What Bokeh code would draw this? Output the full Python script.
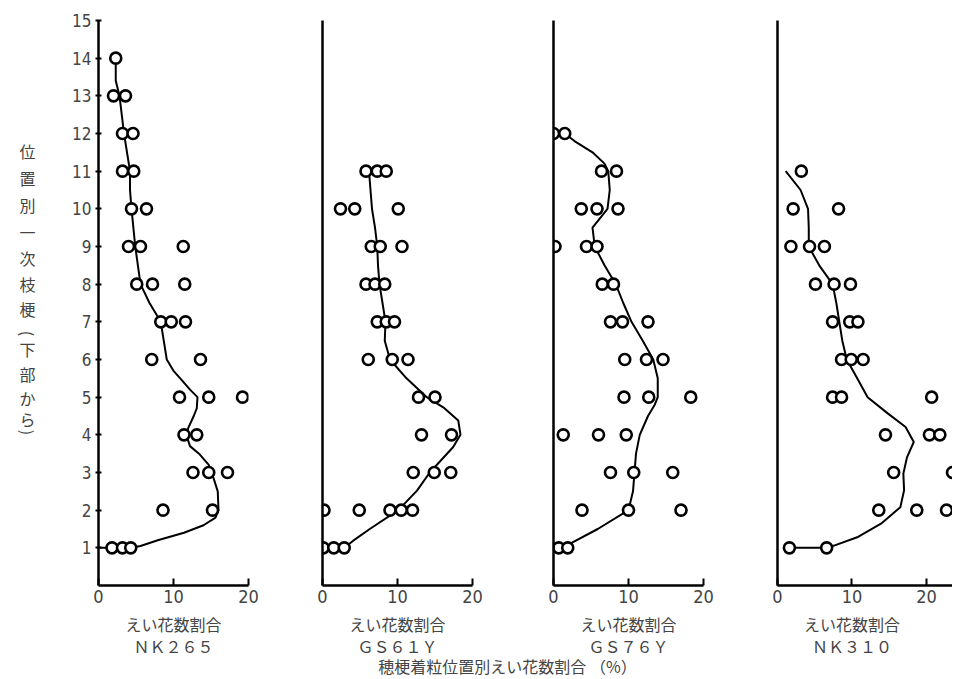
import math
from bokeh.plotting import figure
from bokeh.layouts import row, column
from bokeh.models import Label, FixedTicker, Range1d
from bokeh.embed import file_html
from bokeh.resources import INLINE

# ---------------- data ----------------
varieties = ["ＮＫ２６５", "ＧＳ６１Ｙ", "ＧＳ７６Ｙ", "ＮＫ３１０"]
x_label = "えい花数割合"
y_title = ["位", "置", "別", "一", "次", "枝", "梗", "(", "下", "部", "か", "ら", ")"]
bottom_title = "穂梗着粒位置別えい花数割合 （%）"
y_ticks = list(range(1, 16))
x_ticks = [0, 10, 20]

# NK265
nk265_y = [14, 13, 13, 12, 12, 11, 11, 10, 10, 9, 9, 9, 8, 8, 8, 7, 7, 7, 6, 6,
           5, 5, 5, 4, 4, 3, 3, 3, 2, 2, 1, 1, 1]
nk265_x = [2.3, 2.0, 3.6, 3.2, 4.6, 3.2, 4.7, 4.4, 6.4, 4.0, 5.6, 11.3, 5.1, 7.2, 11.5,
           8.3, 9.7, 11.6, 7.1, 13.6, 10.8, 14.7, 19.2, 11.4, 13.1, 12.6, 14.7, 17.2,
           8.6, 15.2, 1.8, 3.2, 4.3]
nk265_cx = [2.3, 2.3, 2.8, 3.4, 4.2, 4.2, 4.4, 4.9, 5.6, 6.8, 8.3, 8.7, 9.1, 10.0, 10.9,
            12.2, 13.2, 13.1, 12.7, 12.0, 11.7, 12.2, 13.4, 14.7, 15.1, 15.9, 16.0, 15.6,
            14.0, 11.4, 7.9, 5.6, 4.3, 0.0]
nk265_cy = [14, 13.4, 13, 12, 11, 10.5, 10, 9, 8, 7.5, 7, 6.5, 6, 5.7, 5.5, 5.2, 5, 4.7,
            4.5, 4.2, 4, 3.7, 3.5, 3.2, 3, 2.5, 2, 1.8, 1.6, 1.4, 1.2, 1.05, 1.0, 1.0]

# GS61Y
gs61y_y = [11, 11, 11, 10, 10, 10, 9, 9, 9, 8, 8, 8, 7, 7, 7, 6, 6, 6, 5, 5, 4, 4,
           3, 3, 3, 2, 2, 2, 2, 2, 1, 1, 1]
gs61y_x = [5.8, 7.3, 8.5, 2.4, 4.3, 10.1, 6.5, 7.7, 10.6, 5.8, 7.0, 8.3, 7.3, 8.5, 9.6,
           6.1, 9.3, 11.4, 12.8, 15.0, 13.2, 17.2, 12.1, 14.9, 17.1, 0.2, 4.9, 9.0,
           10.5, 12.0, 0.1, 1.5, 2.9]
gs61y_cx = [6.2, 6.4, 6.6, 7.0, 7.3, 7.4, 7.6, 8.0, 8.4, 8.3, 9.0, 11.2, 13.9, 16.1,
            18.1, 18.4, 17.4, 14.3, 12.6, 10.1, 6.3, 4.1, 2.9, 0.1]
gs61y_cy = [11, 10.5, 10, 9.5, 9, 8.5, 8, 7.5, 7, 6.5, 6, 5.5, 5, 4.73, 4.38, 4.0,
            3.67, 3.0, 2.52, 2.0, 1.5, 1.19, 1.0, 1.0]

# GS76Y
gs76y_y = [12, 12, 11, 11, 10, 10, 10, 9, 9, 9, 8, 8, 7, 7, 7, 6, 6, 6, 5, 5, 5,
           4, 4, 4, 3, 3, 3, 2, 2, 2, 1, 1]
gs76y_x = [0.0, 1.5, 6.4, 8.4, 3.7, 5.8, 8.6, 0.2, 4.4, 5.8, 6.5, 8.0, 7.6, 9.2, 12.6,
           9.5, 12.4, 14.6, 9.4, 12.7, 18.3, 1.3, 6.0, 9.7, 7.6, 10.7, 15.9, 3.8, 10.0,
           17.0, 0.7, 1.9]
gs76y_cx = [1.5, 2.8, 5.2, 6.8, 7.3, 7.5, 7.2, 5.2, 5.5, 6.8, 8.3, 9.3, 10.4, 11.9,
            13.3, 13.9, 13.9, 13.5, 12.6, 11.5, 11.0, 10.8, 10.6, 10.0, 5.9, 2.1, 1.9]
gs76y_cy = [12, 11.8, 11.5, 11.2, 11, 10.5, 10, 9.5, 9, 8.5, 8, 7.5, 7, 6.5, 6, 5.5,
            5, 4.8, 4.5, 4, 3.5, 3, 2.5, 2, 1.5, 1.1, 1.0]

# NK310
nk310_y = [11, 10, 10, 9, 9, 9, 8, 8, 8, 7, 7, 7, 6, 6, 6, 5, 5, 5, 4, 4, 4, 3, 3,
           2, 2, 2, 1, 1]
nk310_x = [3.2, 2.1, 8.2, 1.8, 4.3, 6.3, 5.1, 7.6, 9.8, 7.4, 9.7, 10.8, 8.6, 9.9, 11.5,
           7.4, 8.6, 20.7, 14.5, 20.4, 21.8, 15.6, 23.5, 13.6, 18.7, 22.7, 1.6, 6.6]
nk310_cx = [1.1, 3.1, 4.1, 4.2, 4.2, 5.6, 7.4, 7.9, 8.3, 8.7, 9.3, 10.7, 12.1, 14.8,
            17.2, 18.3, 17.4, 16.9, 17.0, 16.5, 13.9, 10.7, 7.6, 6.6, 1.6]
nk310_cy = [11.0, 10.5, 10, 9.5, 9, 8.5, 8, 7.5, 7, 6.5, 6, 5.5, 5.0, 4.57, 4.21, 3.81,
            3.41, 2.97, 2.53, 2.08, 1.64, 1.28, 1.06, 1.0, 1.0]

panels = [
    (nk265_x, nk265_y, nk265_cx, nk265_cy),
    (gs61y_x, gs61y_y, gs61y_cx, gs61y_cy),
    (gs76y_x, gs76y_y, gs76y_cx, gs76y_cy),
    (nk310_x, nk310_y, nk310_cx, nk310_cy),
]

# ---------------- layout ----------------
# (figure width, left border, right border, x max)
specs = [(192, 30, 12, 20.0), (224, 62, 12, 20.0), (231, 69, 12, 20.0), (237, 62, 0, 23.5)]
YL_W = 68
TOP = 20
FRAME_H = 565
BOTTOM = 26
FIG_H = TOP + FRAME_H + BOTTOM
PAGE_H = 679
STRIP_H = PAGE_H - FIG_H
PX_PER_Y = FRAME_H / 15.0

CJK = "Noto Sans CJK JP"
NUM = "'Liberation Sans Narrow', 'DejaVu Sans Condensed', 'Liberation Sans', sans-serif"


def ydata(py):
    return (TOP + FRAME_H - py) / PX_PER_Y


# y-axis title in its own narrow figure whose frame matches the panels' frames
yl = figure(width=YL_W, height=FIG_H, x_range=Range1d(0, YL_W), y_range=Range1d(0, 15),
            toolbar_location=None, output_backend="svg",
            min_border_left=0, min_border_right=0,
            min_border_top=TOP, min_border_bottom=BOTTOM,
            x_axis_location=None, y_axis_location=None)
yl.outline_line_color = None
yl.grid.visible = False
char_py = [150, 177, 204, 231, 257, 283, 308, 333, 348, 373, 397, 418, 432]
for ch, py in zip(y_title, char_py):
    ang = -math.pi / 2 if ch in "()" else 0.0
    yl.add_layout(Label(x=27, y=ydata(py), text=ch, text_align="center",
                        text_baseline="middle", text_font=CJK, text_font_size="16px",
                        angle=ang))

figs = [yl]
label_centers = []
left_edge = YL_W
for i, ((w, bl, br, xmax), (px, py, cx, cy)) in enumerate(zip(specs, panels)):
    p = figure(width=w, height=FIG_H, x_range=Range1d(0, xmax), y_range=Range1d(0, 15),
               toolbar_location=None, output_backend="svg",
               min_border_left=bl, min_border_right=br,
               min_border_top=TOP, min_border_bottom=BOTTOM)
    p.outline_line_color = None
    p.grid.visible = False

    p.line(cx, cy, line_color="black", line_width=2)
    p.scatter(px, py, marker="circle", size=11, fill_color="white",
              line_color="black", line_width=2.6)

    xa = p.xaxis[0]
    xa.ticker = FixedTicker(ticks=x_ticks)
    xa.minor_tick_line_color = None
    xa.major_tick_in = 7
    xa.major_tick_out = 0
    xa.major_tick_line_width = 2
    xa.axis_line_width = 2.5
    xa.major_label_text_font = NUM
    xa.major_label_text_font_size = "18px"
    xa.major_label_standoff = 4

    ya = p.yaxis[0]
    ya.axis_line_width = 2.5
    ya.minor_tick_line_color = None
    if i == 0:
        ya.ticker = FixedTicker(ticks=y_ticks)
        ya.major_tick_in = 3
        ya.major_tick_out = 3
        ya.major_tick_line_width = 2
        ya.major_label_text_font = NUM
        ya.major_label_text_font_size = "17px"
        ya.major_label_standoff = 4
    else:
        ya.ticker = FixedTicker(ticks=[])
        ya.major_tick_in = 0
        ya.major_tick_out = 0
    figs.append(p)

    frame_w = w - bl - br
    label_centers.append(left_edge + bl + 10.0 * frame_w / xmax)
    left_edge += w

total_w = YL_W + sum(s[0] for s in specs)

# strip below the panels: per-panel captions and the common x title
# (y range runs top-down: page pixel rows FIG_H .. PAGE_H)
strip = figure(width=total_w, height=STRIP_H, x_range=Range1d(0, total_w),
               y_range=Range1d(PAGE_H, FIG_H), toolbar_location=None,
               output_backend="svg", min_border=0,
               x_axis_location=None, y_axis_location=None)
strip.outline_line_color = None
strip.grid.visible = False
for xc, name in zip(label_centers, varieties):
    strip.add_layout(Label(x=xc, y=623, text=x_label, text_align="center",
                           text_baseline="middle", text_font=CJK, text_font_size="16px"))
    strip.add_layout(Label(x=xc, y=645.5, text=name, text_align="center",
                           text_baseline="middle", text_font=CJK, text_font_size="16px"))
strip.add_layout(Label(x=507, y=665, text=bottom_title, text_align="center",
                       text_baseline="middle", text_font=CJK, text_font_size="16px"))

layout = column(row(*figs), strip)
open("out.html", "w").write(file_html(layout, INLINE))
